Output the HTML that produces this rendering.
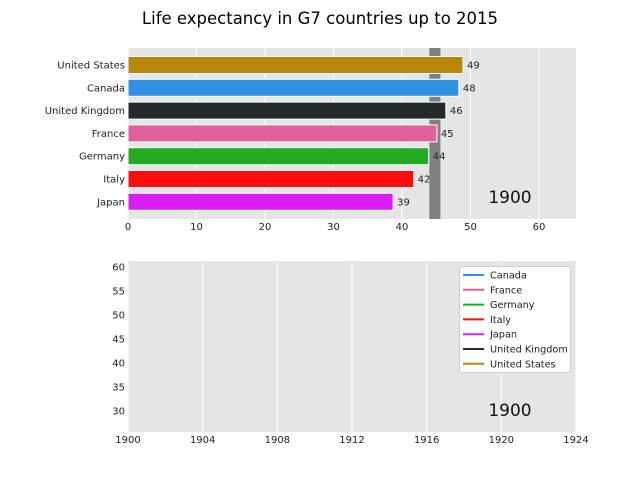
<!DOCTYPE html>
<html><head><meta charset="utf-8"><style>
body{margin:0;background:#fff;}
svg{display:block;font-family:"Liberation Sans","DejaVu Sans",sans-serif;}
</style></head><body>
<svg id="c" width="640" height="480">
<text x="320" y="24" text-anchor="middle" font-size="16.5" font-family="DejaVu Sans, sans-serif">Life expectancy in G7 countries up to 2015</text>
</svg>
<script>
const countries=["United States","Canada","United Kingdom","France","Germany","Italy","Japan"];
const values=[48.9,48.3,46.4,45.1,43.9,41.7,38.7];
const labels=["49","48","46","45","44","42","39"];
const colors=["#b8860b","#3090e3","#222a2a","#e0609a","#22aa22","#ff0d0d","#d81ef5"];
const xTicks=[0,10,20,30,40,50,60];
const meanValue=44.8;
const legendNames=["Canada","France","Germany","Italy","Japan","United Kingdom","United States"];
const legendColors=["#3090e3","#e0609a","#22aa22","#ff0d0d","#d81ef5","#222a2a","#b8860b"];
const yearTicks=[1900,1904,1908,1912,1916,1920,1924];
const lifeTicks=[30,35,40,45,50,55,60];
const year="1900";

const NS="http://www.w3.org/2000/svg";
const svg=document.getElementById('c');
function mk(t,a,txt){const e=document.createElementNS(NS,t);for(const k in a)e.setAttribute(k,a[k]);if(txt!==undefined)e.textContent=txt;svg.appendChild(e);return e;}
const F='DejaVu Sans, sans-serif';

const L=128,R=576,T1=48,B1=219;
const xs=v=>L+v*6.85;
let e=mk('rect',{x:L,y:T1,width:R-L,height:B1-T1,fill:'#e5e5e5'});

xTicks.forEach(t=>{
 e=mk('line',{x1:xs(t),x2:xs(t),y1:T1,y2:B1,stroke:'#fff','stroke-width':1});
 
 e=mk('text',{x:xs(t),y:B1+11,'text-anchor':'middle','font-size':10,fill:'#222','font-family':F},String(t));
 
});
e=mk('rect',{x:xs(meanValue)-5.5,y:T1,width:11,height:B1-T1,fill:'#808080'});

const step=22.8,bh=17;
countries.forEach((c,i)=>{
 const cy=65+i*step;
 e=mk('rect',{x:L,y:cy-bh/2,width:xs(values[i])-L,height:bh,fill:colors[i],stroke:'#fff','stroke-width':1});
 
 e=mk('text',{x:xs(values[i])+4,y:cy+3.5,'font-size':10,fill:'#222','font-family':F},labels[i]);
 
 e=mk('text',{x:L-3,y:cy+3.5,'text-anchor':'end','font-size':10,fill:'#222','font-family':F},c);
 
});
e=mk('text',{x:510,y:203,'text-anchor':'middle','font-size':17,fill:'#111','font-family':F},year);


const T2=261,B2=432;
const xs2=y=>L+(y-1900)*(R-L)/24;
const ys2=v=>267+(60-v)*4.8;
e=mk('rect',{x:L,y:T2,width:R-L,height:B2-T2,fill:'#e5e5e5'});

yearTicks.forEach(t=>{
 e=mk('line',{x1:xs2(t),x2:xs2(t),y1:T2,y2:B2,stroke:'#fff','stroke-width':1});
 
 e=mk('text',{x:xs2(t),y:B2+11,'text-anchor':'middle','font-size':10,fill:'#222','font-family':F},String(t));
 
});
lifeTicks.forEach(t=>{
 e=mk('text',{x:L-3,y:ys2(t)+3.5,'text-anchor':'end','font-size':10,fill:'#222','font-family':F},String(t));
 
});
e=mk('rect',{x:459.5,y:266.5,width:111,height:106,rx:3,fill:'#fff',stroke:'#ccc'});

legendNames.forEach((n,i)=>{
 const y=275+i*14.8;
 e=mk('line',{x1:463,x2:484,y1:y,y2:y,stroke:legendColors[i],'stroke-width':2});
 
 e=mk('text',{x:490,y:y+3.5,'font-size':9.7,fill:'#222','font-family':F},n);
 
});
e=mk('text',{x:510,y:416,'text-anchor':'middle','font-size':17,fill:'#111','font-family':F},year);

</script>
</body></html>
